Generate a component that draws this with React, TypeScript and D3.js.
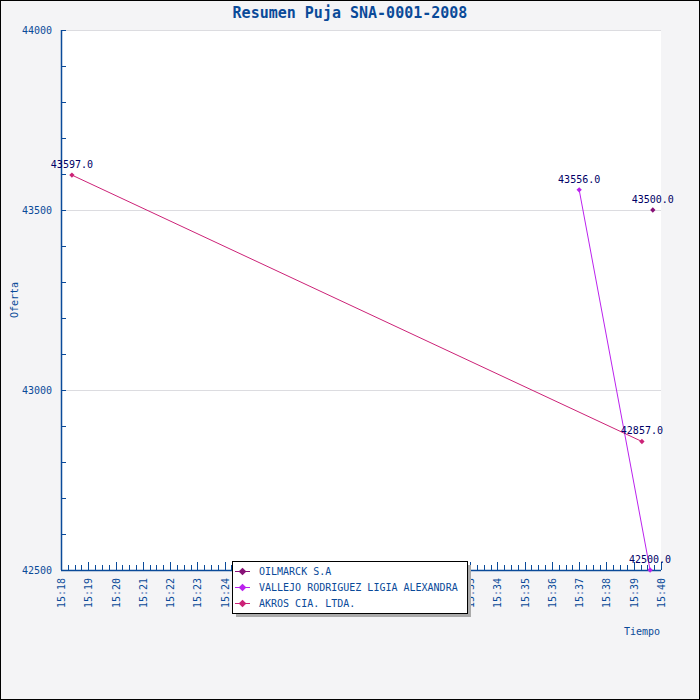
import React, { useEffect, useRef } from 'react';
import * as d3 from 'd3';

// bid history, one list per bidder: [time, offer]
const oilmarck: [string, number][] = [['15:39:42', 43500]];
const vallejo: [string, number][] = [
  ['15:37:00', 43556],
  ['15:39:36', 42500],
];
const akros: [string, number][] = [
  ['15:18:24', 43597],
  ['15:39:18', 42857],
];

const seriesNames = ['OILMARCK S.A', 'VALLEJO RODRIGUEZ LIGIA ALEXANDRA', 'AKROS CIA. LTDA.'];
const seriesColors = ['#881177', '#bb22ee', '#cc2277'];
const yTicks = [42500, 43000, 43500, 44000];
const timeStart = '15:18:00';
const timeEnd = '15:40:00';

const parseTime = d3.timeParse('%H:%M:%S');
const font = '"DejaVu Sans Mono", monospace';

const App = () => {
  const ref = useRef(null);

  useEffect(() => {
    const W = 700,
      H = 700;
    const margin = { top: 30, right: 39, bottom: 130, left: 61 };
    const width = W - margin.left - margin.right,
      height = H - margin.top - margin.bottom;

    const root = d3.select(ref.current);
    root.selectAll('*').remove();

    const svg = root
      .append('svg')
      .attr('width', W)
      .attr('height', H)
      .style('position', 'absolute')
      .style('left', 0)
      .style('top', 0);

    svg
      .append('rect')
      .attr('x', 0.5)
      .attr('y', 0.5)
      .attr('width', W - 1)
      .attr('height', H - 1)
      .attr('fill', '#f4f4f6')
      .attr('stroke', '#000');

    svg
      .append('text')
      .attr('x', W / 2)
      .attr('y', 18)
      .attr('text-anchor', 'middle')
      .style('font-family', font)
      .style('font-size', '15px')
      .style('font-weight', 'bold')
      .style('fill', '#0a4a99')
      .text('Resumen Puja SNA-0001-2008');

    const g = svg.append('g').attr('transform', `translate(${margin.left},${margin.top})`);

    g.append('rect').attr('width', width).attr('height', height).attr('fill', '#fff');

    const x = d3
      .scaleTime()
      .domain([parseTime(timeStart), parseTime(timeEnd)])
      .range([0, width]);
    const y = d3.scaleLinear().domain([42500, 44000]).range([height, 0]);

    // grid
    g.selectAll('.grid')
      .data(yTicks.slice(1))
      .enter()
      .append('line')
      .attr('x1', 0)
      .attr('x2', width)
      .attr('y1', (d) => y(d) + 0.5)
      .attr('y2', (d) => y(d) + 0.5)
      .attr('stroke', '#dcdce0');

    const axisColor = '#0a4a99';

    // y axis
    const yAxis = g.append('g');
    yAxis
      .append('line')
      .attr('x1', 0.5)
      .attr('x2', 0.5)
      .attr('y1', 0)
      .attr('y2', height)
      .attr('stroke', axisColor)
      .attr('stroke-width', 1.5);
    yAxis
      .selectAll('.ytick')
      .data(d3.range(42500, 44001, 100))
      .enter()
      .append('line')
      .attr('x1', 0)
      .attr('x2', 5)
      .attr('y1', (d) => y(d) + 0.5)
      .attr('y2', (d) => y(d) + 0.5)
      .attr('stroke', axisColor);
    yAxis
      .selectAll('.ylabel')
      .data(yTicks)
      .enter()
      .append('text')
      .attr('x', -9)
      .attr('y', (d) => y(d) + 4)
      .attr('text-anchor', 'end')
      .style('font-family', font)
      .style('font-size', '10px')
      .style('fill', axisColor)
      .text((d) => d);

    svg
      .append('text')
      .attr('transform', `translate(18,${margin.top + height / 2}) rotate(-90)`)
      .attr('text-anchor', 'middle')
      .style('font-family', font)
      .style('font-size', '10px')
      .style('fill', axisColor)
      .text('Oferta');

    // x axis
    const xAxis = g.append('g').attr('transform', `translate(0,${height})`);
    xAxis
      .append('line')
      .attr('x1', 0)
      .attr('x2', width)
      .attr('y1', 0.5)
      .attr('y2', 0.5)
      .attr('stroke', axisColor)
      .attr('stroke-width', 1.5);
    const [t0, t1] = x.domain();
    const minor = d3.timeSecond.every(15).range(t0, new Date(+t1 + 1));
    xAxis
      .selectAll('.xtick')
      .data(minor)
      .enter()
      .append('line')
      .attr('x1', (d) => Math.round(x(d)) + 0.5)
      .attr('x2', (d) => Math.round(x(d)) + 0.5)
      .attr('y1', 0)
      .attr('y2', (d) => (d.getSeconds() === 0 ? -8 : -5))
      .attr('stroke', axisColor);
    const major = d3.timeMinute.every(1).range(t0, new Date(+t1 + 1));
    xAxis
      .selectAll('.xlabel')
      .data(major)
      .enter()
      .append('text')
      .attr('transform', (d) => `translate(${x(d) + 4},8) rotate(-90)`)
      .attr('text-anchor', 'end')
      .style('font-family', font)
      .style('font-size', '10px')
      .style('fill', axisColor)
      .text((d) => d3.timeFormat('%H:%M')(d));

    svg
      .append('text')
      .attr('x', 642)
      .attr('y', 635)
      .attr('text-anchor', 'middle')
      .style('font-family', font)
      .style('font-size', '10px')
      .style('fill', axisColor)
      .text('Tiempo');

    const allSeries = [oilmarck, vallejo, akros];
    const line = d3
      .line<[string, number]>()
      .x((d) => x(parseTime(d[0])))
      .y((d) => y(d[1]));
    const marker = d3.symbol().type(d3.symbolSquare).size(14);

    // draw AKROS first so the others sit on top
    [2, 1, 0].forEach((i) => {
      const data = allSeries[i];
      const color = seriesColors[i];
      g.append('path')
        .attr('d', line(data))
        .attr('fill', 'none')
        .attr('stroke', color)
        .attr('stroke-width', 1);
      g.selectAll(`.pt${i}`)
        .data(data)
        .enter()
        .append('path')
        .attr('d', marker)
        .attr('transform', (d) => `translate(${x(parseTime(d[0]))},${y(d[1])}) rotate(45)`)
        .attr('fill', color);
    });

    allSeries.forEach((data) => {
      g.selectAll(null)
        .data(data)
        .enter()
        .append('text')
        .attr('x', (d) => x(parseTime(d[0])))
        .attr('y', (d) => y(d[1]) - 7)
        .attr('text-anchor', 'middle')
        .style('font-family', font)
        .style('font-size', '10px')
        .style('fill', '#000066')
        .text((d) => d[1].toFixed(1));
    });

    // legend
    const lg = svg.append('g').attr('transform', 'translate(232,561)');
    lg.append('rect').attr('x', 4).attr('y', 4).attr('width', 235).attr('height', 52).attr('fill', '#aaa');
    lg.append('rect')
      .attr('x', 0.5)
      .attr('y', 0.5)
      .attr('width', 235)
      .attr('height', 52)
      .attr('fill', '#fff')
      .attr('stroke', '#000');
    seriesNames.forEach((name, i) => {
      const cy = 10 + i * 16;
      lg.append('line')
        .attr('x1', 3)
        .attr('x2', 18)
        .attr('y1', cy + 0.5)
        .attr('y2', cy + 0.5)
        .attr('stroke', seriesColors[i]);
      lg.append('path')
        .attr('d', d3.symbol().type(d3.symbolSquare).size(30)())
        .attr('transform', `translate(10.5,${cy + 0.5}) rotate(45)`)
        .attr('fill', seriesColors[i]);
      lg.append('text')
        .attr('x', 27)
        .attr('y', cy + 4)
        .style('font-family', font)
        .style('font-size', '10px')
        .style('fill', axisColor)
        .text(name);
    });
  }, []);

  return <div ref={ref}></div>;
};

export default App;
